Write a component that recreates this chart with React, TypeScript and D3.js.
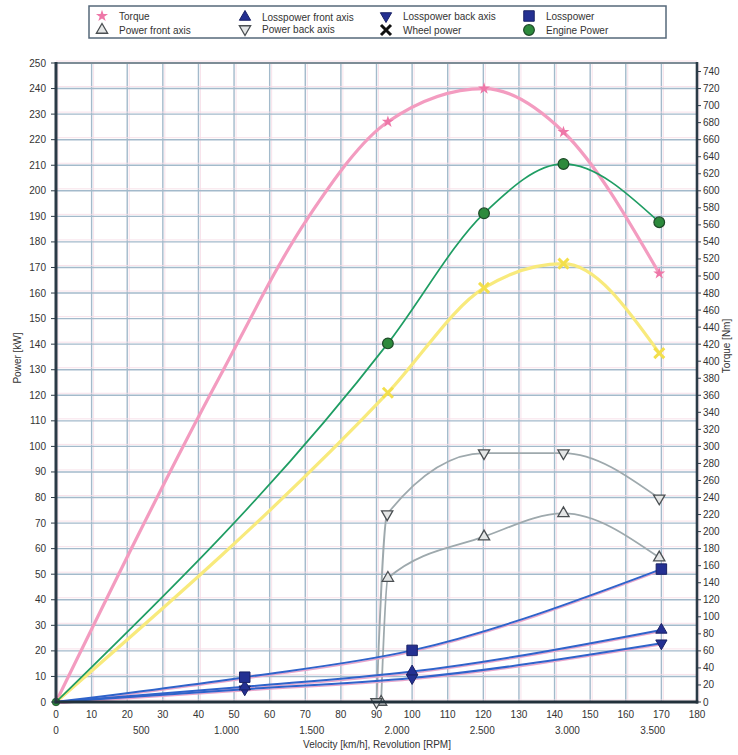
import * as d3 from 'd3';

// velocity axis (km/h) and the revolution axis printed under it
const velocityTicks = d3.range(0, 181, 10);
const rpmTicks = [0, 500, 1000, 1500, 2000, 2500, 3000, 3500];
const powerTicks = d3.range(0, 251, 10);
const torqueTicks = d3.range(0, 741, 20);

// Torque [Nm] (some points on the curve carry no marker)
const torqueVel = [0, 46, 70.4, 93.2, 120.2, 142.5, 169.4];
const torqueNm = [0, 382, 566, 681, 720, 669, 503];
const torqueMarked = [false, false, false, true, true, true, true];

// Engine / wheel power [kW]
const powerVel = [0, 93.2, 120.2, 142.5, 169.4];
const enginePower = [0, 140.3, 191.2, 210.5, 187.7];
const wheelPower = [0, 121, 162, 171.5, 136.5];

// Power per axis [kW]
const frontAxisVel = [91.3, 93.2, 120.2, 142.5, 169.4];
const frontAxisPower = [0, 48.5, 64.7, 73.8, 56.5];
const backAxisVel = [90.0, 93.0, 120.2, 142.5, 169.4];
const backAxisPower = [0, 73.5, 97.4, 97.4, 79.7];

// Loss power [kW]
const lossVel = [0, 53, 100, 170];
const lossPower = [0, 9.7, 20.2, 52];
const lossFront = [0, 6, 11.9, 28.2];
const lossBack = [0, 5, 9.4, 23];

const W = 738;
const H = 755;
const FONT = 'Liberation Sans, Arial, sans-serif';

const x = d3.scaleLinear().domain([0, 180]).range([56, 697]);
const y = d3.scaleLinear().domain([0, 250]).range([702, 63]);
const yTorque = d3.scaleLinear().domain([0, 750]).range([702, 63]);
const xRpm = d3.scaleLinear().domain([0, 3760]).range([56, 697]);

const fmtRpm = (v: number) => (v >= 1000 ? `${Math.floor(v / 1000)}.${String(v % 1000).padStart(3, '0')}` : `${v}`);

type Pt = [number, number];
const zip = (xs: number[], ys: number[]): Pt[] => xs.map((v, i) => [v, ys[i]]);

const lineKW = d3.line<Pt>().x(d => x(d[0])).y(d => y(d[1])).curve(d3.curveMonotoneX);
const lineNm = d3.line<Pt>().x(d => x(d[0])).y(d => yTorque(d[1])).curve(d3.curveMonotoneX);

const COL = {
  torque: '#f39cc0',
  torqueMk: '#ee77a8',
  wheel: '#f8ea7c',
  wheelMk: '#f3df4c',
  engine: '#1f9d63',
  engineMk: '#2d8a3c',
  gray: '#9ea9ad',
  blue: '#2f63ca',
  blueMk: '#243092',
  grid: '#a3bacb',
  text: '#333',
};

const sym = (type: d3.SymbolType, size: number) => d3.symbol().type(type).size(size)() as string;
const triPath = sym(d3.symbolTriangle, 55);
const squarePath = sym(d3.symbolSquare, 110);
const circlePath = sym(d3.symbolCircle, 90);
const starPath = sym(d3.symbolStar, 45);
const crossPath = 'M-5,-5L5,5M-5,5L5,-5';

function Marker({ kind, cx, cy, scale = 1 }: { kind: string; cx: number; cy: number; scale?: number }) {
  const t = `translate(${cx},${cy}) scale(${scale})`;
  switch (kind) {
    case 'torque':
      return <path d={starPath} transform={t} fill={COL.torqueMk} />;
    case 'triUp':
      return <path d={triPath} transform={t} fill="#e4e6e6" stroke="#4a4f52" strokeWidth={1.3} />;
    case 'triDown':
      return <path d={triPath} transform={`${t} rotate(180)`} fill="#e4e6e6" stroke="#4a4f52" strokeWidth={1.3} />;
    case 'blueUp':
      return <path d={triPath} transform={t} fill={COL.blueMk} stroke="#1a2266" strokeWidth={1} />;
    case 'blueDown':
      return <path d={triPath} transform={`${t} rotate(180)`} fill={COL.blueMk} stroke="#1a2266" strokeWidth={1} />;
    case 'square':
      return <path d={squarePath} transform={t} fill={COL.blueMk} stroke="#1a2266" strokeWidth={1} />;
    case 'circle':
      return <path d={circlePath} transform={t} fill={COL.engineMk} stroke="#1d4a28" strokeWidth={1.2} />;
    case 'wheel':
      return <path d={crossPath} transform={t} stroke={COL.wheelMk} strokeWidth={3} fill="none" />;
    case 'cross':
      return <path d={crossPath} transform={t} stroke="#111" strokeWidth={3} fill="none" />;
    default:
      return null;
  }
}

const legendItems = [
  { kind: 'torque', label: 'Torque', lx: 102, ly: 16 },
  { kind: 'triUp', label: 'Power front axis', lx: 102, ly: 30 },
  { kind: 'blueUp', label: 'Losspower front axis', lx: 245, ly: 17 },
  { kind: 'triDown', label: 'Power back axis', lx: 245, ly: 29 },
  { kind: 'blueDown', label: 'Losspower back axis', lx: 386, ly: 16 },
  { kind: 'cross', label: 'Wheel power', lx: 386, ly: 30 },
  { kind: 'square', label: 'Losspower', lx: 529, ly: 16 },
  { kind: 'circle', label: 'Engine Power', lx: 529, ly: 30 },
];

export default function App() {
  const torquePts = zip(torqueVel, torqueNm);
  const enginePts = zip(powerVel, enginePower);
  const wheelPts = zip(powerVel, wheelPower);
  const frontPts = zip(frontAxisVel, frontAxisPower);
  const backPts = zip(backAxisVel, backAxisPower);
  const lossSeries = [lossPower, lossFront, lossBack].map(s => zip(lossVel, s));

  return (
    <svg width={W} height={H} style={{ position: 'absolute', left: 0, top: 0, background: '#fff' }} fontFamily={FONT}>
      <rect width={W} height={H} fill="#fff" />

      {/* grid */}
      <g>
        {velocityTicks.map(v => (
          <g key={`v${v}`}>
            <line x1={x(v) + 2} x2={x(v) + 2} y1={y(250)} y2={y(0)} stroke="#f6dbe4" strokeWidth={0.8} />
            <line x1={x(v)} x2={x(v)} y1={y(250)} y2={y(0)} stroke={COL.grid} strokeWidth={1.4} />
          </g>
        ))}
        {powerTicks.map(p => (
          <g key={`p${p}`}>
            <line x1={x(0)} x2={x(180)} y1={y(p) - 2} y2={y(p) - 2} stroke="#f6dbe4" strokeWidth={0.8} />
            <line x1={x(0)} x2={x(180)} y1={y(p)} y2={y(p)} stroke={COL.grid} strokeWidth={1.4} />
          </g>
        ))}
      </g>

      {/* curves */}
      <path d={lineNm(torquePts) as string} fill="none" stroke={COL.torque} strokeWidth={3.2} />
      <path d={lineKW(wheelPts) as string} fill="none" stroke={COL.wheel} strokeWidth={3.2} />
      <path d={lineKW(enginePts) as string} fill="none" stroke={COL.engine} strokeWidth={1.7} />
      <path d={lineKW(frontPts) as string} fill="none" stroke={COL.gray} strokeWidth={1.8} />
      <path d={lineKW(backPts) as string} fill="none" stroke={COL.gray} strokeWidth={1.8} />
      {lossSeries.map((pts, i) => (
        <g key={`loss${i}`}>
          <path d={lineKW(pts) as string} fill="none" stroke="#e9a6cc" strokeWidth={1.4} transform="translate(0,1.6)" />
          <path d={lineKW(pts) as string} fill="none" stroke={COL.blue} strokeWidth={2} />
        </g>
      ))}

      {/* markers */}
      {torquePts.map((d, i) => torqueMarked[i] && <Marker key={`tm${i}`} kind="torque" cx={x(d[0])} cy={yTorque(d[1])} />)}
      {wheelPts.slice(1).map((d, i) => <Marker key={`wm${i}`} kind="wheel" cx={x(d[0])} cy={y(d[1])} />)}
      {frontPts.map((d, i) => <Marker key={`fm${i}`} kind="triUp" cx={x(d[0])} cy={y(d[1])} />)}
      {backPts.map((d, i) => <Marker key={`bm${i}`} kind="triDown" cx={x(d[0])} cy={y(d[1])} />)}
      {lossSeries[2].slice(1).map((d, i) => <Marker key={`lb${i}`} kind="blueDown" cx={x(d[0])} cy={y(d[1])} />)}
      {lossSeries[1].slice(1).map((d, i) => <Marker key={`lf${i}`} kind="blueUp" cx={x(d[0])} cy={y(d[1])} />)}
      {lossSeries[0].slice(1).map((d, i) => <Marker key={`lp${i}`} kind="square" cx={x(d[0])} cy={y(d[1])} />)}
      {enginePts.map((d, i) => <Marker key={`em${i}`} kind="circle" cx={x(d[0])} cy={y(d[1])} scale={i === 0 ? 0.7 : 1} />)}

      {/* frame */}
      <line x1={x(0)} x2={x(180)} y1={y(250)} y2={y(250)} stroke="#7d8c96" strokeWidth={2} />
      <line x1={x(0)} x2={x(0)} y1={y(250) - 1} y2={y(0) + 1.5} stroke="#2b3b47" strokeWidth={3} />
      <line x1={x(180)} x2={x(180)} y1={y(250) - 1} y2={y(0) + 1.5} stroke="#2b3b47" strokeWidth={2.6} />
      <line x1={x(0) - 1.5} x2={x(180) + 1.3} y1={y(0)} y2={y(0)} stroke="#22313b" strokeWidth={3} />

      {/* left axis */}
      {powerTicks.map(p => (
        <g key={`lt${p}`}>
          <line x1={x(0) - 5} x2={x(0)} y1={y(p)} y2={y(p)} stroke="#2b3b47" strokeWidth={1} />
          <text x={46} y={y(p)} dy="0.35em" textAnchor="end" fontSize={10} fill={COL.text}>{p}</text>
        </g>
      ))}
      <text transform={`translate(21,358) rotate(-90)`} textAnchor="middle" fontSize={10} fill={COL.text}>Power [kW]</text>

      {/* right axis */}
      {torqueTicks.map(t => (
        <g key={`rt${t}`}>
          <line x1={x(180)} x2={x(180) + 4} y1={yTorque(t)} y2={yTorque(t)} stroke="#2b3b47" strokeWidth={1} />
          <text x={703} y={yTorque(t)} dy="0.35em" textAnchor="start" fontSize={10} fill={COL.text}>{t}</text>
        </g>
      ))}
      <text transform={`translate(730,346) rotate(-90)`} textAnchor="middle" fontSize={10} fill={COL.text}>Torque [Nm]</text>

      {/* bottom axes */}
      {velocityTicks.map(v => (
        <text key={`bx${v}`} x={x(v)} y={718} textAnchor="middle" fontSize={10} fill={COL.text}>{v}</text>
      ))}
      {rpmTicks.map(r => (
        <text key={`br${r}`} x={xRpm(r)} y={734} textAnchor="middle" fontSize={10} fill={COL.text}>{fmtRpm(r)}</text>
      ))}
      <text x={377} y={748} textAnchor="middle" fontSize={10} fill={COL.text}>Velocity [km/h], Revolution [RPM]</text>

      {/* legend */}
      <rect x={89} y={6} width={577} height={32} fill="#fff" stroke="#56687a" strokeWidth={1.5} />
      {legendItems.map(it => (
        <g key={it.label}>
          <Marker kind={it.kind} cx={it.lx} cy={it.ly} />
          <text x={it.lx + 17} y={it.ly} dy="0.35em" fontSize={10} fill={COL.text}>{it.label}</text>
        </g>
      ))}
    </svg>
  );
}
